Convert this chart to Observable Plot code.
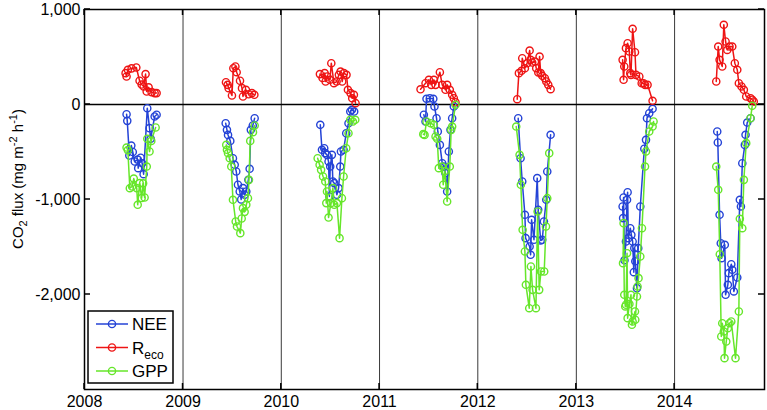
<!DOCTYPE html>
<html><head><meta charset="utf-8">
<script src="https://cdn.jsdelivr.net/npm/d3@7"></script>
<script src="https://cdn.jsdelivr.net/npm/@observablehq/plot@0.6"></script>
<style>body{margin:0;background:#fff}svg{display:block}</style>
</head><body><div id="chart"></div>
<script>
const years = [2008, 2009, 2010, 2011, 2012, 2013, 2014];
const xEnd = 2014.915;
const yTicks = [1000, 0, -1000, -2000];
const yTickLabels = ["1,000", "0", "-1,000", "-2,000"];
const seriesNames = ["NEE", "Reco", "GPP"];
const seriesColors = ["#2443d6", "#ee1414", "#66e62a"];

// decimal-year dates and flux values (mg m-2 h-1)
const neeT = [
 2008.427,2008.434,2008.455,2008.475,2008.490,2008.510,2008.540,2008.545,2008.570,2008.585,2008.600,2008.637,2008.660,2008.672,2008.712,2008.732,
 2009.434,2009.447,2009.458,2009.481,2009.508,2009.526,2009.542,2009.559,2009.577,2009.592,2009.610,2009.627,2009.644,2009.665,2009.678,2009.690,2009.710,2009.729,
 2010.397,2010.414,2010.437,2010.447,2010.465,2010.481,2010.490,2010.498,2010.515,2010.525,2010.539,2010.566,2010.583,2010.600,2010.607,2010.634,2010.661,2010.684,2010.702,2010.719,2010.742,
 2011.451,2011.468,2011.478,2011.512,2011.547,2011.559,2011.580,2011.593,2011.614,2011.638,2011.654,2011.671,2011.688,2011.705,2011.722,2011.739,2011.756,
 2012.410,2012.434,2012.451,2012.478,2012.485,2012.526,2012.536,2012.546,2012.570,2012.603,2012.613,2012.638,2012.654,2012.671,2012.695,2012.705,2012.739,
 2013.471,2013.476,2013.481,2013.490,2013.505,2013.516,2013.522,2013.529,2013.549,2013.560,2013.573,2013.585,2013.590,2013.600,2013.617,2013.630,2013.651,2013.692,2013.709,2013.719,2013.742,2013.776,
 2014.434,2014.440,2014.458,2014.470,2014.478,2014.511,2014.519,2014.542,2014.552,2014.577,2014.587,2014.603,2014.638,2014.664,2014.675,2014.689,2014.715,2014.722,2014.739,2014.773
];
const neeV = [
 -102,-172,-537,-432,-500,-600,-580,-670,-560,-618,-733,-39,-249,-361,-126,-108,
 -197,-267,-320,-383,-565,-635,-705,-845,-915,-1000,-880,-950,-915,-793,-677,-267,-221,-144,
 -214,-477,-460,-512,-530,-600,-968,-653,-530,-810,-828,-950,-880,-653,-495,-477,-302,-197,-74,-56,-74,
 -108,-179,60,66,60,-21,-144,-284,-425,-618,-653,-723,-915,-495,-267,-144,-21,
 -144,-565,-810,-1161,-1407,-1495,-1582,-1214,-1424,-775,-1109,-1431,-1424,-1231,-1003,-705,-319,
 -1073,-1196,-979,-1640,-1442,-1003,-923,-1407,-1302,-1372,-1442,-1765,-1512,-1650,-1933,-1512,-1073,-466,-372,-144,-92,-45,
 -284,-400,-1161,-1460,-1618,-1477,-2003,-1898,-1775,-1681,-1740,-1968,-1821,-1003,-1073,-618,-425,-319,-190,-144
];
const recoT = [
 2008.417,2008.427,2008.440,2008.478,2008.526,2008.559,2008.580,2008.600,2008.620,2008.631,2008.651,2008.681,2008.712,2008.732,
 2009.437,2009.454,2009.464,2009.498,2009.512,2009.533,2009.546,2009.580,2009.600,2009.610,2009.640,2009.668,2009.701,2009.726,
 2010.393,2010.420,2010.441,2010.451,2010.468,2010.495,2010.509,2010.536,2010.563,2010.586,2010.603,2010.620,2010.637,2010.664,2010.678,2010.705,2010.722,2010.739,2010.756,
 2011.417,2011.468,2011.502,2011.526,2011.553,2011.570,2011.614,2011.638,2011.671,2011.688,2011.715,2011.739,2011.756,2011.773,
 2012.400,2012.417,2012.444,2012.451,2012.478,2012.501,2012.526,2012.536,2012.552,2012.580,2012.593,2012.614,2012.627,2012.638,2012.654,2012.681,2012.695,2012.715,2012.739,
 2013.471,2013.481,2013.488,2013.505,2013.522,2013.539,2013.549,2013.556,2013.573,2013.597,2013.607,2013.641,2013.665,2013.684,2013.700,2013.725,2013.776,
 2014.424,2014.444,2014.458,2014.485,2014.501,2014.519,2014.536,2014.559,2014.587,2014.613,2014.638,2014.654,2014.681,2014.705,2014.729,2014.773,2014.790,2014.806
];
const recoV = [
 330,295,365,380,390,250,210,190,320,137,180,130,120,120,
 235,207,172,95,382,400,340,250,172,84,155,108,120,102,
 320,280,330,242,295,260,435,224,242,312,347,242,330,312,155,120,66,102,14,
 160,224,260,207,260,207,340,207,155,207,155,102,66,24,
 56,330,355,487,382,435,568,470,442,452,382,337,505,330,302,277,242,207,161,
 470,260,400,593,645,558,330,312,797,550,312,295,224,224,207,207,39,
 242,610,470,400,839,663,575,610,610,435,365,224,190,155,84,66,50,32
];
const gppT = [
 2008.427,2008.440,2008.460,2008.483,2008.500,2008.530,2008.540,2008.560,2008.580,2008.595,2008.610,2008.632,2008.637,2008.660,2008.678,2008.722,
 2009.440,2009.447,2009.458,2009.475,2009.491,2009.508,2009.536,2009.549,2009.583,2009.597,2009.610,2009.627,2009.644,2009.661,2009.671,2009.684,2009.712,2009.729,
 2010.370,2010.390,2010.405,2010.425,2010.448,2010.458,2010.465,2010.481,2010.505,2010.525,2010.539,2010.566,2010.593,2010.617,2010.634,2010.661,2010.684,2010.702,2010.729,2010.753,
 2011.445,2011.458,2011.478,2011.519,2011.553,2011.570,2011.587,2011.603,2011.638,2011.648,2011.665,2011.688,2011.715,2011.729,2011.739,2011.773,
 2012.390,2012.424,2012.437,2012.455,2012.478,2012.488,2012.522,2012.539,2012.556,2012.590,2012.607,2012.623,2012.641,2012.674,2012.692,2012.705,2012.725,
 2013.475,2013.481,2013.488,2013.498,2013.505,2013.516,2013.522,2013.540,2013.556,2013.566,2013.573,2013.597,2013.600,2013.617,2013.623,2013.633,2013.651,2013.668,2013.699,2013.709,2013.742,2013.776,2013.786,
 2014.424,2014.444,2014.460,2014.475,2014.485,2014.501,2014.508,2014.526,2014.542,2014.559,2014.577,2014.620,2014.654,2014.664,2014.689,2014.705,2014.729,2014.773,2014.790
];
const gppV = [
 -453,-480,-881,-863,-780,-880,-1056,-828,-985,-830,-979,-653,-361,-495,-383,-242,
 -425,-477,-512,-565,-653,-1003,-1231,-1284,-1354,-1200,-1091,-1130,-1056,-986,-793,-383,-291,-221,
 -565,-635,-688,-758,-810,-1038,-915,-1190,-1038,-880,-1056,-1038,-1407,-986,-758,-460,-302,-161,-179,-161,
 -312,-320,-179,-197,-214,-337,-361,-670,-653,-845,-700,-1021,-653,-267,-232,-3,
 -232,-530,-845,-1319,-1547,-1898,-2144,-1705,-1951,-2144,-1126,-1951,-1758,-1758,-1284,-986,-512,
 -1670,-1249,-2003,-2126,-2108,-1565,-2249,-2100,-2003,-2319,-2284,-2179,-2266,-2021,-1916,-1828,-1600,-1302,-653,-495,-284,-232,-179,
 -653,-898,-1576,-2442,-2302,-2389,-2670,-2495,-2354,-2302,-2284,-2670,-2179,-1203,-1302,-793,-407,-144,-14
];

function toDate(t) {
  const y = Math.floor(t);
  const s = Date.UTC(y, 0, 1), e = Date.UTC(y + 1, 0, 1);
  return new Date(s + (t - y) * (e - s));
}
function rows(name, T, V) {
  return T.map((t, i) => ({series: name, date: toDate(t), value: V[i], year: Math.floor(t)}));
}
const data = [rows("NEE", neeT, neeV), rows("Reco", recoT, recoV), rows("GPP", gppT, gppV)];

const marks = [
  Plot.ruleX(years.slice(1).map(y => toDate(y)), {stroke: "#3a3a3a", strokeWidth: 1}),
  Plot.ruleY([0], {stroke: "black", strokeWidth: 1.5})
];
data.forEach((d, i) => {
  marks.push(Plot.line(d, {x: "date", y: "value", z: "year", stroke: seriesColors[i], strokeWidth: 1.5}));
  marks.push(Plot.dot(d, {x: "date", y: "value", r: 3.6, stroke: seriesColors[i], strokeWidth: 1.4, fill: "none"}));
});
marks.push(Plot.frame({stroke: "black", strokeWidth: 1.5}));

const chart = Plot.plot({
  width: 767, height: 410,
  marginLeft: 84, marginRight: 3, marginTop: 9, marginBottom: 21,
  style: {fontFamily: "'Liberation Sans', Arial, sans-serif", fontSize: "16px", background: "white", color: "black"},
  x: {type: "utc", domain: [toDate(2008), toDate(xEnd)], ticks: years.map(y => toDate(y)),
      tickFormat: d3.utcFormat("%Y"), tickSize: 0, tickPadding: 6, label: null},
  y: {domain: [-3000, 1000], ticks: yTicks, tickFormat: d => yTickLabels[yTicks.indexOf(d)],
      tickSize: 0, tickPadding: 4, label: null},
  marks
});

const svg = d3.select(chart);
const xs = chart.scale("x"), ys = chart.scale("y");
const x0 = xs.apply(toDate(2008)), x1 = xs.apply(toDate(xEnd));
const yTop = ys.apply(1000), yBot = ys.apply(-3000);
const g = svg.append("g").attr("stroke", "black").attr("stroke-width", 1.5);
yTicks.forEach(v => {
  const y = ys.apply(v);
  g.append("line").attr("x1", x0).attr("x2", x0 + 6).attr("y1", y).attr("y2", y);
  g.append("line").attr("x1", x1).attr("x2", x1 - 6).attr("y1", y).attr("y2", y);
});
years.forEach(yr => {
  const x = xs.apply(toDate(yr));
  g.append("line").attr("x1", x).attr("x2", x).attr("y1", yTop).attr("y2", yTop + 6);
  g.append("line").attr("x1", x).attr("x2", x).attr("y1", yBot).attr("y2", yBot - 6);
});

// y axis label
const lab = svg.append("text")
  .attr("transform", "translate(23,179) rotate(-90)")
  .attr("text-anchor", "middle")
  .attr("font-family", "'Liberation Sans', Arial, sans-serif")
  .attr("font-size", 15).attr("fill", "black");
lab.append("tspan").text("CO");
lab.append("tspan").attr("dy", 4).attr("font-size", 11).text("2");
lab.append("tspan").attr("dy", -4).text(" flux (mg m");
lab.append("tspan").attr("dy", -6).attr("font-size", 11).text("-2");
lab.append("tspan").attr("dy", 6).text(" h");
lab.append("tspan").attr("dy", -6).attr("font-size", 11).text("-1");
lab.append("tspan").attr("dy", 6).text(")");

// legend
const lg = svg.append("g").attr("font-family", "'Liberation Sans', Arial, sans-serif")
  .attr("font-size", 17).attr("text-anchor", "start");
lg.append("rect").attr("x", 88).attr("y", 311).attr("width", 85).attr("height", 72)
  .attr("fill", "white").attr("stroke", "black").attr("stroke-width", 1.5);
const rowY = [324, 347.5, 371];
seriesNames.forEach((name, i) => {
  const y = rowY[i];
  lg.append("line").attr("x1", 96).attr("x2", 128).attr("y1", y).attr("y2", y)
    .attr("stroke", seriesColors[i]).attr("stroke-width", 1.5);
  lg.append("circle").attr("cx", 112).attr("cy", y).attr("r", 3.6)
    .attr("fill", "none").attr("stroke", seriesColors[i]).attr("stroke-width", 1.4);
  const t = lg.append("text").attr("x", 132).attr("y", y + 6).attr("fill", "black")
    .attr("text-anchor", "start");
  if (name === "Reco") {
    t.append("tspan").text("R");
    t.append("tspan").attr("dy", 5).attr("font-size", 12).text("eco");
  } else {
    t.text(name);
  }
});

document.getElementById("chart").appendChild(chart);
</script>
</body></html>
